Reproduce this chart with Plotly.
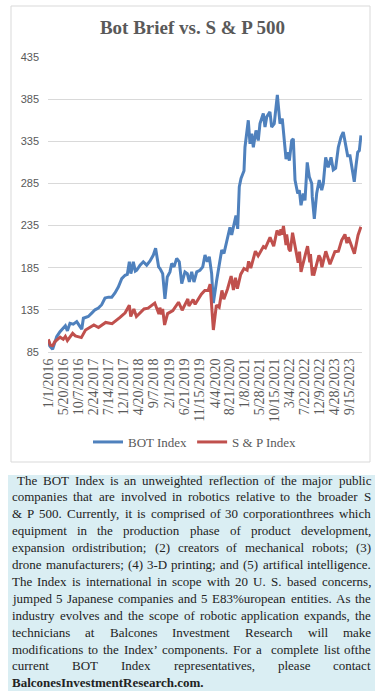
import plotly.graph_objects as go

# ---------------- data ----------------
bot_dates = [
    "2016-01-01", "2016-01-15", "2016-02-10", "2016-03-01", "2016-03-19", "2016-04-19", "2016-05-20",
    "2016-06-08", "2016-06-27", "2016-07-21", "2016-08-21", "2016-09-22", "2016-10-23", "2016-11-08",
    "2016-11-23", "2017-01-08", "2017-02-09", "2017-03-12", "2017-04-12", "2017-05-13", "2017-06-13",
    "2017-07-14", "2017-08-15", "2017-09-14", "2017-10-15", "2017-11-16", "2017-12-17", "2018-01-07",
    "2018-01-26", "2018-02-09", "2018-02-17", "2018-03-04", "2018-03-23", "2018-04-05", "2018-05-06",
    "2018-06-05", "2018-07-07", "2018-08-07", "2018-09-07", "2018-09-28", "2018-10-26", "2018-11-08",
    "2018-12-03", "2018-12-24", "2019-01-15", "2019-02-09", "2019-02-25", "2019-03-19", "2019-04-13",
    "2019-05-07", "2019-05-30", "2019-06-29", "2019-07-21", "2019-08-09", "2019-08-31", "2019-09-21",
    "2019-10-17", "2019-11-16", "2019-12-12", "2020-01-02", "2020-01-23", "2020-02-11", "2020-03-04",
    "2020-03-20", "2020-04-20", "2020-05-14", "2020-06-06", "2020-06-27", "2020-07-16", "2020-08-06",
    "2020-08-22", "2020-09-07", "2020-09-29", "2020-10-17", "2020-11-02", "2020-11-17", "2020-12-03",
    "2020-12-31", "2021-01-09", "2021-01-25", "2021-02-09", "2021-02-25", "2021-03-13", "2021-03-28",
    "2021-04-22", "2021-05-13", "2021-05-29", "2021-06-29", "2021-07-15", "2021-07-31", "2021-08-30",
    "2021-09-15", "2021-10-09", "2021-11-07", "2021-12-02", "2021-12-23", "2022-01-11", "2022-01-27",
    "2022-02-17", "2022-02-27", "2022-03-21", "2022-04-05", "2022-04-21", "2022-05-16", "2022-05-31",
    "2022-06-16", "2022-07-07", "2022-07-23", "2022-08-13", "2022-09-01", "2022-09-24", "2022-09-29",
    "2022-10-18", "2022-11-09", "2022-12-03", "2022-12-26", "2023-01-10", "2023-02-01", "2023-02-25",
    "2023-03-23", "2023-04-13", "2023-05-05", "2023-05-30", "2023-06-24", "2023-07-15", "2023-08-07",
    "2023-08-25", "2023-09-16", "2023-10-02", "2023-10-26", "2023-11-11", "2023-11-27", "2023-12-12",
    "2023-12-27",
]
bot_values = [
    99, 92, 88, 96, 103, 109, 113,
    116, 110, 119, 118, 121, 115, 112,
    125, 127, 131, 135, 137, 141, 149,
    150, 150, 155, 162, 172, 176, 177,
    192, 178, 182, 192, 181, 182, 188,
    192, 188, 193, 200, 208, 186, 184,
    178, 148, 174, 180, 190, 186, 196,
    192, 166, 180, 178, 168, 180, 168,
    180, 182, 186, 200, 192, 198, 178,
    143, 170, 186, 206, 202, 214, 226,
    233, 224, 237, 247, 231, 281, 291,
    300, 328, 348, 360, 332, 344, 328,
    348, 336, 356, 368, 352, 364, 370,
    352, 356, 390, 356, 362, 340, 314,
    322, 312, 336, 338, 289, 273, 277,
    259, 273, 265, 310, 293, 285, 269,
    243, 273, 289, 277, 285, 316, 304,
    316, 301, 303, 328, 340, 346, 332,
    318, 318, 306, 287, 306, 322, 324,
    342,
]

sp_dates = [
    "2016-01-01", "2016-01-20", "2016-02-11", "2016-03-01", "2016-04-20", "2016-05-19", "2016-06-08",
    "2016-06-27", "2016-08-15", "2016-09-09", "2016-11-04", "2016-12-13", "2017-03-01", "2017-04-13",
    "2017-06-19", "2017-08-18", "2017-10-31", "2017-12-18", "2018-01-26", "2018-02-08", "2018-03-09",
    "2018-04-02", "2018-06-12", "2018-07-20", "2018-09-20", "2018-10-29", "2018-11-07", "2018-11-23",
    "2018-12-03", "2018-12-21", "2019-01-18", "2019-03-08", "2019-04-30", "2019-06-03", "2019-07-26",
    "2019-08-05", "2019-09-13", "2019-10-02", "2019-11-29", "2019-12-31", "2020-01-31", "2020-02-19",
    "2020-03-20", "2020-04-17", "2020-05-13", "2020-06-08", "2020-06-26", "2020-07-31", "2020-09-02",
    "2020-09-23", "2020-10-12", "2020-10-30", "2020-11-30", "2020-12-31", "2021-01-29", "2021-02-12",
    "2021-03-04", "2021-04-16", "2021-05-12", "2021-06-30", "2021-07-19", "2021-08-31", "2021-10-04",
    "2021-11-04", "2021-11-30", "2021-12-10", "2021-12-20", "2022-01-03", "2022-01-27", "2022-02-02",
    "2022-02-23", "2022-03-08", "2022-03-29", "2022-04-29", "2022-05-20", "2022-06-02", "2022-06-16",
    "2022-07-29", "2022-08-16", "2022-09-06", "2022-09-12", "2022-09-30", "2022-10-04", "2022-10-12",
    "2022-11-30", "2022-12-13", "2022-12-28", "2023-02-02", "2023-03-13", "2023-04-28", "2023-05-31",
    "2023-06-30", "2023-07-31", "2023-08-18", "2023-09-01", "2023-10-27", "2023-11-30", "2023-12-27",
]
sp_values = [
    100, 93, 92.5, 97, 102.5, 100, 103.5,
    98.5, 107, 104, 102, 111, 117, 114,
    120, 118.5, 126, 131.5, 140.5, 127, 136,
    127, 136, 137, 143, 130, 137.5, 129.5,
    136, 117, 130.5, 134, 144, 134.5, 148,
    139.5, 147, 141.5, 153.5, 158, 158, 165.5,
    111, 140.5, 138, 158, 147.5, 160, 175,
    158.5, 173, 160, 177, 184, 182, 192.5,
    184.5, 204.5, 199, 210, 208.5, 221, 210.5,
    229, 223.5, 230.5, 224, 234.5, 212, 224.5,
    207, 204.5, 226.5, 202.5, 191, 204, 180,
    202, 210.5, 191.5, 201, 175.5, 185.5, 175.5,
    199.5, 196.5, 185.5, 204.5, 189, 204, 204.5,
    217.5, 224.5, 214, 221, 201.5, 223.5, 233.5,
]

tick_dates = [
    "2016-01-01", "2016-05-20", "2016-10-07", "2017-02-24", "2017-07-14", "2017-12-01", "2018-04-20",
    "2018-09-07", "2019-02-01", "2019-06-21", "2019-11-15", "2020-04-04", "2020-08-21", "2021-01-08",
    "2021-05-28", "2021-10-15", "2022-03-04", "2022-07-22", "2022-12-09", "2023-04-28", "2023-09-15",
]
tick_labels = [
    "1/1/2016", "5/20/2016", "10/7/2016", "2/24/2017", "7/14/2017", "12/1/2017", "4/20/2018",
    "9/7/2018", "2/1/2019", "6/21/2019", "11/15/2019", "4/4/2020", "8/21/2020", "1/8/2021",
    "5/28/2021", "10/15/2021", "3/4/2022", "7/22/2022", "12/9/2022", "4/28/2023", "9/15/2023",
]
y_ticks = [85, 135, 185, 235, 285, 335, 385, 435]

title_text = "Bot Brief vs. S & P 500"
series_names = ["BOT Index", "S & P Index"]

body_lines = [
    "The BOT Index is an unweighted reflection of the major public",
    "companies that are involved in robotics relative to the broader S",
    "& P 500. Currently, it is comprised of 30 corporationthrees which",
    "equipment in the production phase of product development,",
    "expansion ordistribution; (2) creators of mechanical robots; (3)",
    "drone manufacturers; (4) 3-D printing; and (5) artifical intelligence.",
    "The Index is international in scope with 20 U. S. based concerns,",
    "jumped 5 Japanese companies and 5 E83%uropean entities. As the",
    "industry evolves and the scope of robotic application expands, the",
    "technicians at Balcones Investment Research will make",
    "modifications to the Index\u2019 components. For a  complete list ofthe",
    "current BOT Index representatives, please contact",
]
body_last = "BalconesInvestmentResearch.com."

# ---------------- layout geometry (pixels) ----------------
W, H = 382, 691
PL, PR, PT, PB = 48, 362, 57, 352   # plot area


def xp(px):
    return (px - PL) / (PR - PL)


def yp(py):
    return (PB - py) / (PB - PT)


BLUE = "#4F81BD"
RED = "#C0504D"
GRAY = "#595959"
GRID = "#D9D9D9"

fig = go.Figure()
fig.add_trace(go.Scatter(x=bot_dates, y=bot_values, mode="lines", name=series_names[0],
                         line=dict(color=BLUE, width=3)))
fig.add_trace(go.Scatter(x=sp_dates, y=sp_values, mode="lines", name=series_names[1],
                         line=dict(color=RED, width=3)))

shapes = [
    dict(type="rect", xref="paper", yref="paper", x0=xp(11), x1=xp(370), y0=yp(462), y1=yp(6),
         line=dict(color=GRID, width=1), fillcolor="rgba(0,0,0,0)", layer="below"),
    dict(type="rect", xref="paper", yref="paper", x0=xp(8), x1=xp(375), y0=yp(691), y1=yp(475),
         line=dict(width=0), fillcolor="#DAEEF3", layer="below"),
]

# ---- justified body text (Times / Liberation Serif metrics) ----
TW = {' ': 250, '!': 333, '%': 833, '&': 778, "'": 180, '(': 333, ')': 333, ',': 250, '-': 333,
      '.': 250, '/': 278, ':': 278, ';': 278, '\u2019': 333,
      'A': 722, 'B': 667, 'C': 667, 'D': 722, 'E': 611, 'F': 556, 'G': 722, 'H': 722, 'I': 333,
      'J': 389, 'K': 722, 'L': 611, 'M': 889, 'N': 722, 'O': 722, 'P': 556, 'Q': 722, 'R': 667,
      'S': 556, 'T': 611, 'U': 722, 'V': 722, 'W': 944, 'X': 722, 'Y': 722, 'Z': 611,
      'a': 444, 'b': 500, 'c': 444, 'd': 500, 'e': 444, 'f': 333, 'g': 500, 'h': 500, 'i': 278,
      'j': 278, 'k': 500, 'l': 278, 'm': 778, 'n': 500, 'o': 500, 'p': 500, 'q': 500, 'r': 333,
      's': 389, 't': 278, 'u': 500, 'v': 500, 'w': 722, 'x': 500, 'y': 500, 'z': 444}


def em_width(s):
    return sum(TW.get(c, 500) for c in s) / 1000.0


TX_L, TX_R, INDENT = 11, 370, 16
LINE0, LSTEP = 480.0, 16.9

fs = 13.3
for i, line in enumerate(body_lines):
    left = INDENT if i == 0 else TX_L
    fs = min(fs, (TX_R - left) / (em_width(line) * 1.02))

annotations = []
for i, line in enumerate(body_lines):
    left = INDENT if i == 0 else TX_L
    words = line.split(" ")
    widths = [em_width(w) * fs for w in words]
    gap = (TX_R - left - sum(widths)) / (len(words) - 1)
    x = left
    cy = LINE0 + i * LSTEP
    for w, wd in zip(words, widths):
        if w:
            annotations.append(dict(text=w, x=xp(x), y=yp(cy), xref="paper", yref="paper",
                                    xanchor="left", yanchor="middle", showarrow=False, borderpad=0,
                                    font=dict(family="Liberation Serif", size=fs, color="#222222")))
        x += wd + gap
annotations.append(dict(text="<b>" + body_last + "</b>", x=xp(TX_L), y=yp(LINE0 + len(body_lines) * LSTEP),
                        xref="paper", yref="paper", xanchor="left", yanchor="middle", showarrow=False,
                        borderpad=0, font=dict(family="Liberation Serif", size=fs, color="#222222")))

fig.update_layout(
    width=W, height=H,
    margin=dict(l=PL, r=W - PR, t=PT, b=H - PB, pad=0),
    paper_bgcolor="white", plot_bgcolor="white",
    title=dict(text="<b>" + title_text + "</b>", x=192.5 / W, xanchor="center",
               y=1 - 27 / H, yanchor="middle",
               font=dict(family="Liberation Serif", size=19, color=GRAY)),
    showlegend=True,
    legend=dict(orientation="h", x=xp(88), xanchor="left", y=yp(442), yanchor="middle",
                font=dict(family="Liberation Serif", size=13, color=GRAY),
                bgcolor="rgba(0,0,0,0)", itemwidth=30),
    shapes=shapes,
    annotations=annotations,
)
fig.update_xaxes(type="date", range=["2015-12-29", "2024-01-06"], tickmode="array",
                 tickvals=tick_dates, ticktext=tick_labels, tickangle=-90,
                 tickfont=dict(family="Liberation Serif", size=14, color=GRAY),
                 showgrid=False, zeroline=False, showline=True, linecolor=GRID, linewidth=1,
                 ticks="", fixedrange=True)
fig.update_yaxes(range=[84.9, 435.1], tickmode="array", tickvals=y_ticks,
                 tickfont=dict(family="Liberation Sans", size=11, color=GRAY),
                 showgrid=True, gridcolor=GRID, gridwidth=1, zeroline=False, showline=False,
                 ticks="", ticklabelstandoff=8, fixedrange=True)

fig.write_html("out.html", config={"displayModeBar": False},
               post_script="document.body.style.margin='0';document.body.style.overflow='hidden';")
